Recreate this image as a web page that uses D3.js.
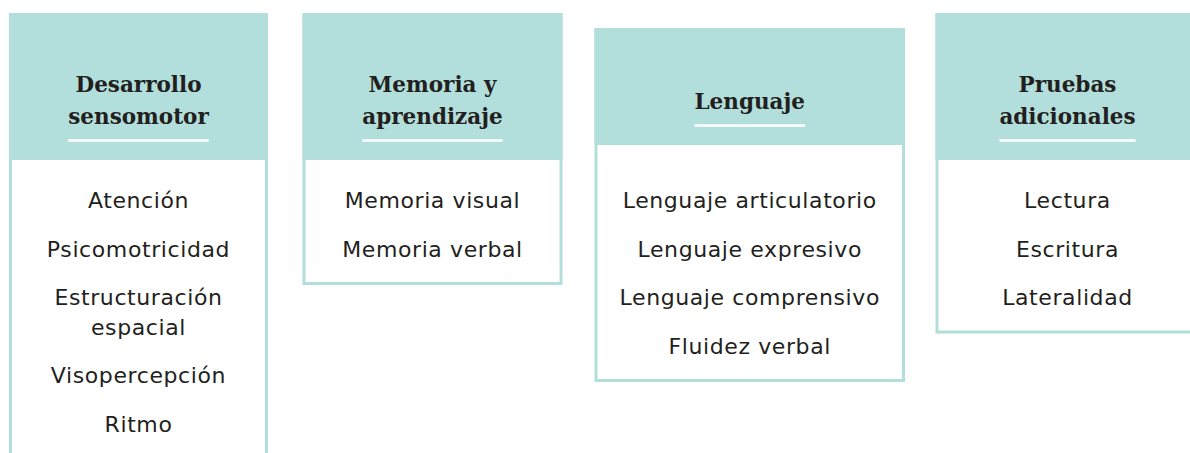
<!DOCTYPE html>
<html>
<head>
<meta charset="utf-8">
<script src="https://cdn.jsdelivr.net/npm/d3@7"></script>
<style>
  html, body { margin: 0; padding: 0; background: #ffffff; overflow: hidden; }
  svg { display: block; }
</style>
</head>
<body>
<svg id="chart" width="1190" height="453"></svg>
<script>
// ---- data ----
const categories = ["Desarrollo sensomotor", "Memoria y aprendizaje", "Lenguaje", "Pruebas adicionales"];
const titleLines = [["Desarrollo", "sensomotor"], ["Memoria y", "aprendizaje"], ["Lenguaje"], ["Pruebas", "adicionales"]];
const itemsDesarrollo = [["Atención"], ["Psicomotricidad"], ["Estructuración", "espacial"], ["Visopercepción"], ["Ritmo"]];
const itemsMemoria = [["Memoria visual"], ["Memoria verbal"]];
const itemsLenguaje = [["Lenguaje articulatorio"], ["Lenguaje expresivo"], ["Lenguaje comprensivo"], ["Fluidez verbal"]];
const itemsPruebas = [["Lectura"], ["Escritura"], ["Lateralidad"]];
const itemLists = [itemsDesarrollo, itemsMemoria, itemsLenguaje, itemsPruebas];

// ---- layout ----
const W = 1190, H = 453;
const teal = "#b2dedb";
const ink = "#231f20";
const boxes = [
  { x: 9,     w: 259,   top: 13, headBottom: 160 },
  { x: 302.5, w: 260,   top: 13, headBottom: 160 },
  { x: 594.5, w: 310.5, top: 28, headBottom: 145 },
  { x: 935.5, w: 264,   top: 13, headBottom: 160 }
];
const itemStep = 48.5, wrapStep = 29.5, firstBaseline = 208, bottomPad = 28.5;

const svg = d3.select("#chart");
svg.append("rect").attr("width", W).attr("height", H).attr("fill", "#fff");

categories.forEach((cat, ci) => {
  const b = boxes[ci];
  const items = itemLists[ci];
  // y scale: item index -> baseline of first line (plus extra wrapped lines)
  const yItem = d3.scaleLinear().domain([0, 1]).range([firstBaseline, firstBaseline + itemStep]);
  let extra = 0;
  const placed = items.map((lines, i) => {
    const y0 = yItem(i) + extra * wrapStep;
    extra += lines.length - 1;
    return { lines, y0 };
  });
  const last = placed[placed.length - 1];
  const lastBaseline = last.y0 + (last.lines.length - 1) * wrapStep;
  const bottom = lastBaseline + bottomPad;

  const g = svg.append("g").attr("class", "box").attr("data-category", cat);
  const cx = b.x + b.w / 2;

  // box border
  g.append("rect")
    .attr("x", b.x + 1.5).attr("y", b.top + 1.5)
    .attr("width", b.w - 3).attr("height", bottom - b.top - 3)
    .attr("fill", "#fff").attr("stroke", teal).attr("stroke-width", 3);
  // header fill
  g.append("rect")
    .attr("x", b.x).attr("y", b.top)
    .attr("width", b.w).attr("height", b.headBottom - b.top)
    .attr("fill", teal);

  // title
  const tl = titleLines[ci];
  const underlineY = b.headBottom - 19.5;
  const lastTitleBase = underlineY - 16.5;
  const title = g.append("text")
    .attr("text-anchor", "middle")
    .attr("font-family", "'DejaVu Serif', 'Liberation Serif', serif")
    .attr("font-weight", "bold")
    .attr("font-size", 21.5)
    .attr("fill", ink);
  tl.forEach((line, li) => {
    title.append("tspan")
      .attr("x", cx)
      .attr("y", lastTitleBase - (tl.length - 1 - li) * 32)
      .text(line);
  });
  const tw = d3.max(title.selectAll("tspan").nodes(), n => n.getComputedTextLength());
  g.append("line")
    .attr("x1", cx - tw / 2).attr("x2", cx + tw / 2)
    .attr("y1", underlineY).attr("y2", underlineY)
    .attr("stroke", "#ffffff").attr("stroke-width", 2.6);

  // items
  placed.forEach(p => {
    const t = g.append("text")
      .attr("text-anchor", "middle")
      .attr("font-family", "'DejaVu Sans', sans-serif")
      .attr("font-size", 22)
      .attr("letter-spacing", 0.6)
      .attr("fill", ink);
    p.lines.forEach((line, li) => {
      t.append("tspan").attr("x", cx).attr("y", p.y0 + li * wrapStep).text(line);
    });
  });
});
</script>
</body>
</html>
